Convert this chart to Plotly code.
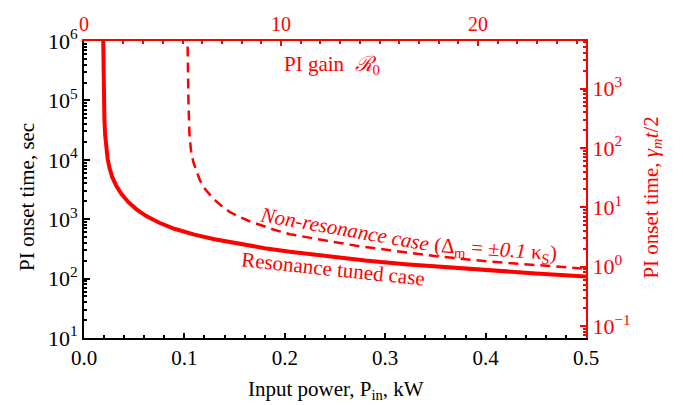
import plotly.graph_objects as go

# --- data ---
# Resonance tuned case (solid): input power [kW] vs PI onset time [s]
p_res = [0.0190, 0.0193, 0.0197, 0.0203, 0.0210, 0.0220, 0.0235, 0.0255, 0.028, 0.032,
         0.037, 0.044, 0.052, 0.062, 0.075, 0.090, 0.110, 0.130, 0.155, 0.180,
         0.205, 0.240, 0.280, 0.320, 0.360, 0.400, 0.450, 0.500]
t_res = [1.5e6, 3.0e5, 1.0e5, 5.0e4, 2.7e4, 1.6e4, 1.05e4, 7200, 5200, 3700,
         2700, 1950, 1480, 1130, 870, 690, 550, 460, 380, 325,
         284, 238, 202, 175, 155, 138, 122, 109]

# Non-resonance case (dashed)
p_non = [0.1030, 0.1034, 0.1040, 0.1050, 0.1065, 0.1090, 0.1125, 0.1155, 0.121, 0.129,
         0.137, 0.145, 0.155, 0.165, 0.1886, 0.205, 0.238, 0.270, 0.305, 0.351,
         0.404, 0.450, 0.500]
t_non = [1.5e6, 3.0e5, 1.0e5, 2.8e4, 1.45e4, 9000, 6000, 4500, 3150, 2200,
         1680, 1330, 1090, 925, 670, 560, 445, 360, 300, 238,
         193, 168, 147]

x_range = [0.0, 0.5]
x_ticks = [0.0, 0.1, 0.2, 0.3, 0.4, 0.5]
gain_range = [0.0, 25.48]          # PI gain R0 (top axis)
gain_ticks = [0, 10, 20]
y_log_range = [1, 6]               # log10 of onset time [s]
y_exps = [1, 2, 3, 4, 5, 6]
y2_log_range = [-1.2, 3.8]         # log10 of gamma_m t / 2
y2_exps = [-1, 0, 1, 2, 3]

RED = "#ff0000"
FONT = 'Liberation Serif, "Times New Roman", Times, serif'


def pow_label(k):
    s = str(k).replace("-", "−")
    return f"10<sup>{s}</sup>"


fig = go.Figure()
fig.add_trace(go.Scatter(x=p_res, y=t_res, mode="lines",
                         line=dict(color=RED, width=4), showlegend=False))
fig.add_trace(go.Scatter(x=p_non, y=t_non, mode="lines",
                         line=dict(color=RED, width=2.5, dash="10px,6px"), showlegend=False))
# invisible trace to activate the secondary axes
fig.add_trace(go.Scatter(x=[gain_range[0]], y=[1.0], xaxis="x2", yaxis="y2",
                         mode="markers", marker=dict(opacity=0), showlegend=False,
                         hoverinfo="skip"))

fig.update_layout(
    width=683, height=405,
    margin=dict(l=84, r=97, t=41, b=67),
    paper_bgcolor="white", plot_bgcolor="white",
    font=dict(family=FONT, size=20, color="black"),
    xaxis=dict(range=x_range, tickvals=x_ticks, ticktext=[f"{v:.1f}" for v in x_ticks],
               showline=True, linecolor="black", linewidth=2, ticks="inside",
               ticklen=5, tickwidth=1.5, tickcolor="black", showgrid=False, zeroline=False,
               minor=dict(dtick=0.02, ticks="inside", ticklen=3, tickcolor="black"),
               tickfont=dict(size=21, family=FONT)),
    xaxis2=dict(range=gain_range, overlaying="x", side="top", tickvals=gain_ticks,
                showline=True, linecolor=RED, linewidth=2, ticks="inside", ticklen=5,
                tickwidth=1.5, tickcolor=RED, showgrid=False, zeroline=False,
                minor=dict(dtick=1, ticks="inside", ticklen=3, tickcolor=RED),
                tickfont=dict(size=20, family=FONT, color=RED)),
    yaxis=dict(type="log", range=y_log_range,
               tickvals=[10 ** k for k in y_exps], ticktext=[pow_label(k) for k in y_exps],
               showline=True, linecolor="black", linewidth=2, ticks="inside",
               ticklen=6, tickwidth=1.5, tickcolor="black", showgrid=False, zeroline=False,
               minor=dict(dtick="D1", ticks="inside", ticklen=3, tickcolor="black"),
               tickfont=dict(size=22, family=FONT)),
    yaxis2=dict(type="log", range=y2_log_range,
                tickvals=[10 ** k for k in y2_exps], ticktext=[pow_label(k) for k in y2_exps],
                overlaying="y", side="right",
                showline=True, linecolor=RED, linewidth=2, ticks="inside",
                ticklen=6, tickwidth=1.5, tickcolor=RED, showgrid=False, zeroline=False,
                minor=dict(dtick="D1", ticks="inside", ticklen=3, tickcolor=RED),
                tickfont=dict(size=22, family=FONT, color=RED)),
)

ann = [
    dict(text="PI onset time, sec", x=-0.1135, y=0.475, textangle=-90,
         font=dict(size=21, color="black")),
    dict(text="PI onset time, <i>γ<sub>m</sub>t</i>/2", x=1.131, y=0.472, textangle=-90,
         font=dict(size=21, color=RED)),
    dict(text="Input power, P<sub>in</sub>, kW", x=0.502, y=-0.174,
         font=dict(size=21, color="black")),
    dict(text="PI gain  <i>ℛ</i><sub>0</sub>", x=0.494, y=0.919,
         font=dict(size=21, color=RED)),
    dict(text="Resonance tuned case", x=0.496, y=0.232, textangle=6,
         font=dict(size=21, color=RED)),
    dict(text="<i>Non-resonance case</i>", x=0.518, y=0.367, textangle=10,
         font=dict(size=21, color=RED)),
    dict(text="(Δ<sub>m</sub> = ±<i>0.1</i> κ<sub>S</sub>)", x=0.819, y=0.297, textangle=4,
         font=dict(size=21, color=RED)),
]
for a in ann:
    a["font"]["family"] = FONT
    fig.add_annotation(xref="paper", yref="paper", showarrow=False,
                       xanchor="center", yanchor="middle", **a)

fig.write_html("out.html")
